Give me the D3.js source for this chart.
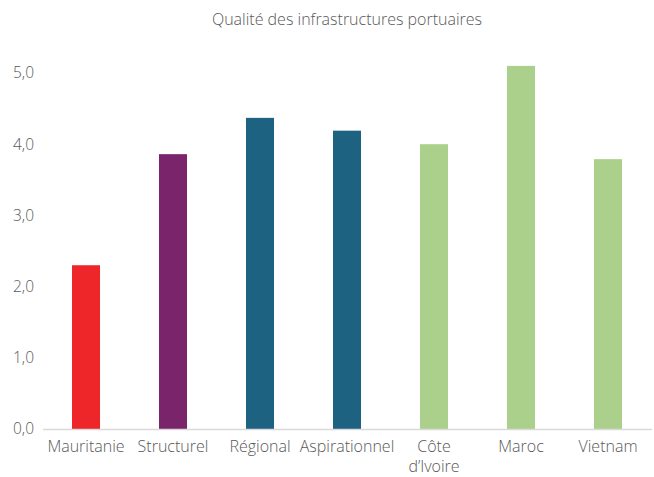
<!DOCTYPE html>
<html><head><meta charset="utf-8">
<script src="https://cdn.jsdelivr.net/npm/d3@7"></script>
<style>
html,body{margin:0;padding:0;background:#fff;}
text{font-family:"Open Sans",sans-serif;font-weight:300;fill:#595959;}
</style></head>
<body>
<svg id="chart" width="654" height="477"></svg>
<script>
const categories = ["Mauritanie","Structurel","Régional","Aspirationnel","Côte d’Ivoire","Maroc","Vietnam"];
const values = [2.30, 3.86, 4.37, 4.19, 4.00, 5.10, 3.79];
const colors = ["#EE2529","#7A246C","#1E6282","#1E6282","#ABD08B","#ABD08B","#ABD08B"];
const yTicks = [0,1,2,3,4,5];
const title = "Qualité des infrastructures portuaires";

const svg = d3.select("#chart");
const margin = {left:42.5, right:2.5, top:73, bottom:48};
const W = 654, H = 477;
const x = d3.scaleBand().domain(categories).range([margin.left, W-margin.right]).paddingInner(0.678).paddingOuter(0.339);
const y = d3.scaleLinear().domain([0,5]).range([429,73]);

svg.append("text").attr("x",(margin.left+W-margin.right)/2).attr("y",25)
  .attr("text-anchor","middle").style("font-size","16px").text(title);

svg.selectAll("rect.bar").data(values).enter().append("rect")
  .attr("class","bar")
  .attr("x",(d,i)=>x(categories[i]))
  .attr("width",x.bandwidth())
  .attr("y",d=>y(d))
  .attr("height",d=>y(0)-y(d))
  .attr("fill",(d,i)=>colors[i]);

const yAxis = d3.axisLeft(y).tickValues(yTicks).tickSize(0).tickPadding(7)
  .tickFormat(d=>d3.format(".1f")(d).replace(".",","));
const gy = svg.append("g").attr("transform",`translate(${margin.left},0)`).call(yAxis);
gy.select(".domain").remove();
gy.selectAll("text").style("font-size","15.5px").attr("fill","#595959").style("font-family","Open Sans").attr("dx","-1.5");

const xAxis = d3.axisBottom(x).tickSize(0).tickPadding(0);
const gx = svg.append("g").attr("transform",`translate(0,${y(0)})`).call(xAxis);
gx.select(".domain").attr("stroke","#d9d9d9").attr("stroke-width",1.3);
gx.selectAll(".tick text").style("font-size","16px").attr("fill","#595959").style("font-family","Open Sans");
gx.selectAll(".tick").each(function(d){
  const g = d3.select(this);
  const parts = d === "Côte d’Ivoire" ? ["Côte","d’Ivoire"] : [d];
  g.select("text").text(parts[0]).attr("y",23).attr("dy",null);
  if (parts.length > 1) {
    g.append("text").attr("y",43).attr("text-anchor","middle")
      .style("font-size","16px").attr("fill","#595959").style("font-family","Open Sans")
      .text(parts[1]);
  }
});
</script>
</body></html>
